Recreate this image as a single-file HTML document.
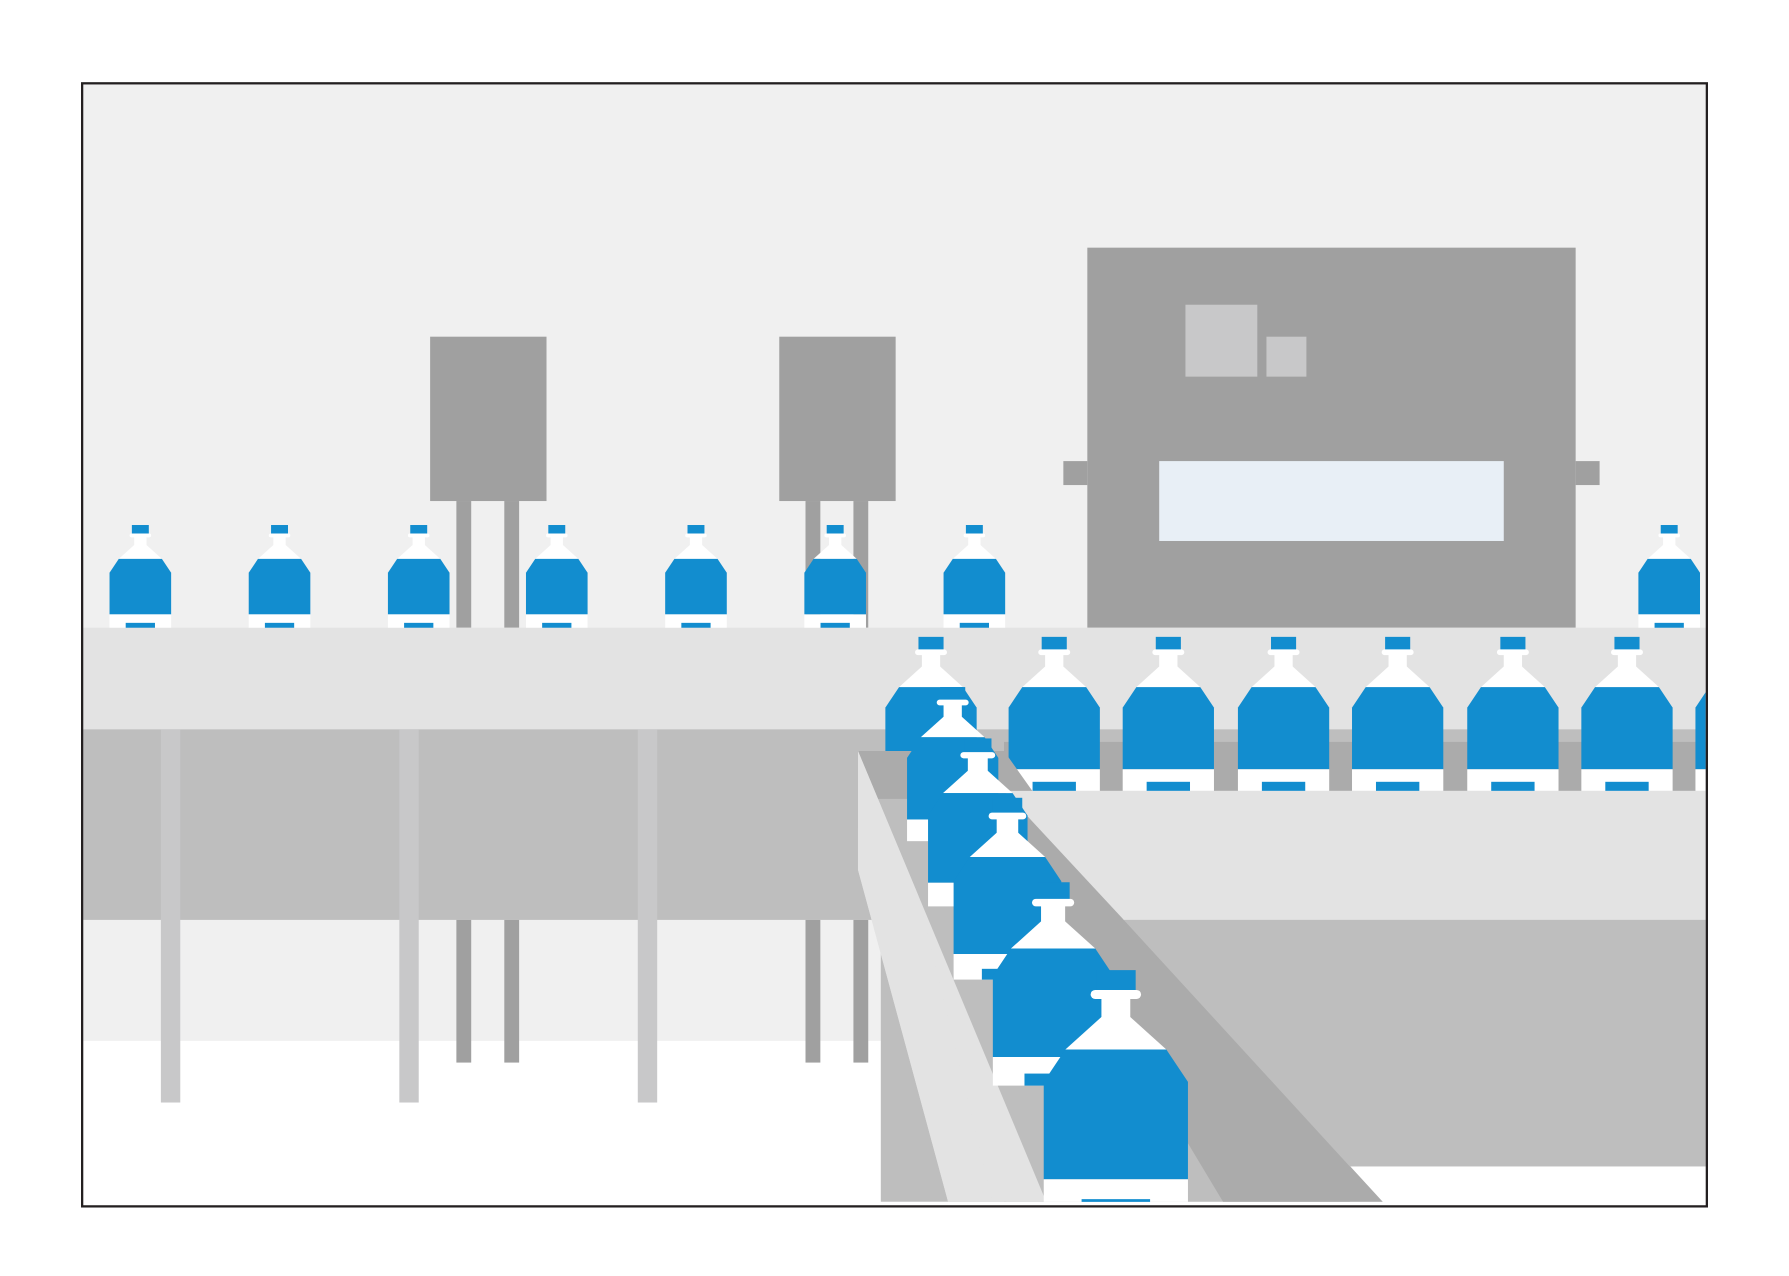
<!DOCTYPE html>
<html><head><style>html,body{margin:0;padding:0;background:#fff}svg{display:block}</style></head>
<body>
<svg width="1789" height="1276" viewBox="0 0 1568 1118" preserveAspectRatio="none" xmlns="http://www.w3.org/2000/svg">
<defs>
<g id="b">
<rect x="-11" y="0" width="22" height="13" fill="#128dcf"/>
<rect x="-14" y="11" width="28" height="5" rx="2.5" fill="#fff"/>
<rect x="-8" y="13" width="16" height="14" fill="#fff"/>
<polygon points="-8,26 8,26 28,44 -28,44" fill="#fff"/>
<path d="M-28,44 L28,44 L40,62 L40,116 L-40,116 L-40,62 Z" fill="#128dcf"/>
<rect x="-40" y="116" width="80" height="19" fill="#fff"/>
<rect x="-19" y="127" width="38" height="8" fill="#128dcf"/>
</g>
<clipPath id="c"><rect x="73" y="74" width="1422" height="979"/></clipPath>
</defs>
<rect x="72" y="73" width="1424" height="984" fill="#fff"/>
<g clip-path="url(#c)">
<rect x="72" y="73" width="1424" height="839" fill="#f0f0f0"/>
<!-- machines -->
<rect x="400" y="439" width="13" height="111" fill="#a0a0a0"/>
<rect x="442" y="439" width="13" height="111" fill="#a0a0a0"/>
<rect x="706" y="439" width="13" height="111" fill="#a0a0a0"/>
<rect x="748" y="439" width="13" height="111" fill="#a0a0a0"/>
<rect x="377" y="295" width="102" height="144" fill="#a0a0a0"/>
<rect x="683" y="295" width="102" height="144" fill="#a0a0a0"/>
<rect x="953" y="217" width="428" height="333" fill="#a0a0a0"/>
<rect x="932" y="404" width="21" height="21" fill="#a0a0a0"/>
<rect x="1381" y="404" width="21" height="21" fill="#a0a0a0"/>
<rect x="1039" y="267" width="63" height="63" fill="#c8c8c9"/>
<rect x="1110" y="295" width="35" height="35" fill="#c8c8c9"/>
<rect x="1016" y="404" width="302" height="70" fill="#e8eff6"/>
<!-- small bottles -->
<use href="#b" transform="translate(123,460) scale(0.675)"/>
<use href="#b" transform="translate(245,460) scale(0.675)"/>
<use href="#b" transform="translate(367,460) scale(0.675)"/>
<use href="#b" transform="translate(488,460) scale(0.675)"/>
<use href="#b" transform="translate(610,460) scale(0.675)"/>
<use href="#b" transform="translate(732,460) scale(0.675)"/>
<use href="#b" transform="translate(854,460) scale(0.675)"/>
<use href="#b" transform="translate(1463,460) scale(0.675)"/>
<!-- main conveyor -->
<rect x="72" y="550" width="1424" height="89" fill="#e3e3e3"/>
<rect x="72" y="639" width="1424" height="167" fill="#bebebe"/>
<rect x="880" y="650" width="616" height="43" fill="#ababab"/>
<rect x="806" y="806" width="0" height="0"/>
<rect x="400" y="806" width="13" height="125" fill="#a0a0a0"/>
<rect x="442" y="806" width="13" height="125" fill="#a0a0a0"/>
<rect x="706" y="806" width="13" height="125" fill="#a0a0a0"/>
<rect x="748" y="806" width="13" height="125" fill="#a0a0a0"/>
<rect x="141" y="639" width="17" height="327" fill="#c8c8c9"/>
<rect x="350" y="639" width="17" height="327" fill="#c8c8c9"/>
<rect x="559" y="639" width="17" height="327" fill="#c8c8c9"/>
<!-- right lower area -->
<rect x="880" y="693" width="616" height="113" fill="#e3e3e3"/>
<polygon points="880,806 1496,806 1496,1022 1183,1022 1212,1053 880,1053" fill="#bebebe"/>
<rect x="1183" y="1022" width="313" height="35" fill="#fff"/>
<rect x="772" y="750" width="110" height="303" fill="#bebebe"/>
<!-- large bottle row -->
<use href="#b" transform="translate(816,558)"/>
<use href="#b" transform="translate(924,558)"/>
<use href="#b" transform="translate(1024,558)"/>
<use href="#b" transform="translate(1125,558)"/>
<use href="#b" transform="translate(1225,558)"/>
<use href="#b" transform="translate(1326,558)"/>
<use href="#b" transform="translate(1426,558)"/>
<use href="#b" transform="translate(1526,558)"/>
<!-- inclined conveyor -->
<polygon points="752,658 880,658 985,806 1212,1053 1072,1053 860,700 752,700" fill="#ababab"/>
<polygon points="880,693 1496,693 1496,806 985,806" fill="#e3e3e3"/>
<polygon points="985,806 1496,806 1496,1022 1183,1022" fill="#bebebe"/>
<polygon points="752,658 917,1053 831,1053 752,762" fill="#e3e3e3"/>
<use href="#b" transform="translate(835,602) scale(1)"/>
<use href="#b" transform="translate(857,647) scale(1.09)"/>
<use href="#b" transform="translate(883,699) scale(1.18)"/>
<use href="#b" transform="translate(923,773) scale(1.32)"/>
<use href="#b" transform="translate(978,850) scale(1.58)"/>
<polygon points="752,658 805,785 870,1053 831,1053 752,762" fill="#e3e3e3"/>
<rect x="72" y="1053" width="1424" height="4" fill="#fff"/>
</g>
<rect x="72" y="73" width="1424" height="984" fill="none" stroke="#231f20" stroke-width="2"/>
</svg>
</body></html>
